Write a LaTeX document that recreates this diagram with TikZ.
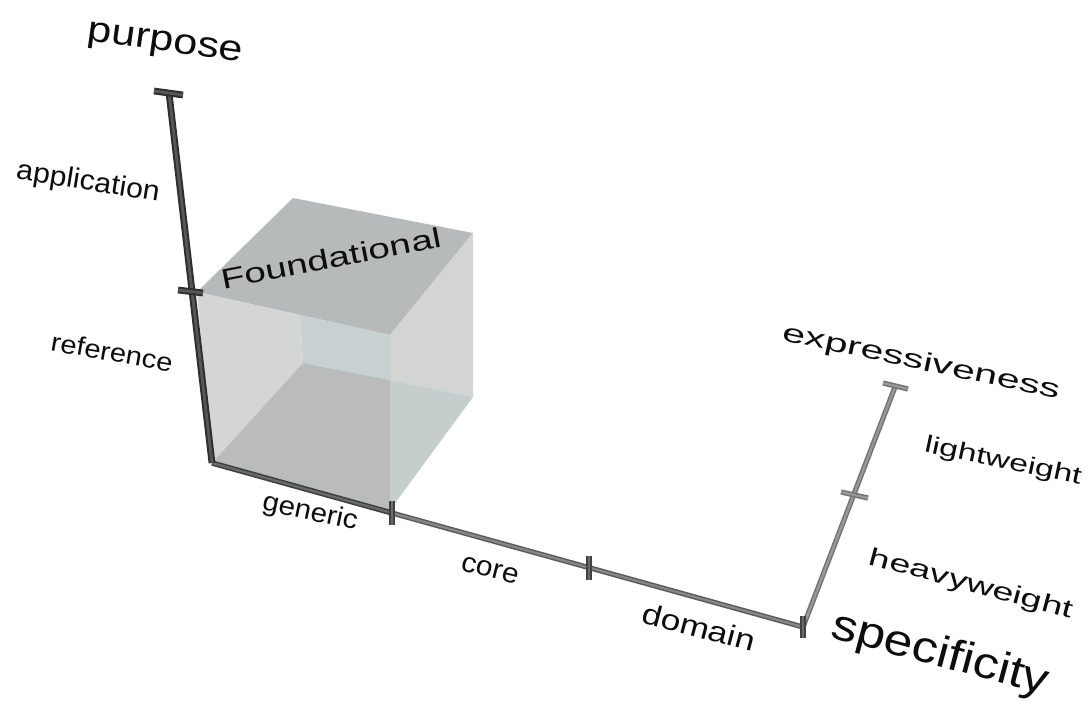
\documentclass[tikz,border=0pt]{standalone}
\usepackage{fontspec}
\usepackage{graphicx}
\setmainfont{Liberation Sans}
\definecolor{topface}{RGB}{182,186,186}
\definecolor{leftface}{RGB}{212,213,213}
\definecolor{backface}{RGB}{200,209,209}
\definecolor{floorface}{RGB}{186,187,187}
\definecolor{rightup}{RGB}{211,213,213}
\definecolor{rightlow}{RGB}{198,205,205}
\begin{document}
\begin{tikzpicture}[x=1pt,y=-1pt,
  lbl/.style={inner sep=0pt, text=black!95, font=\fontsize{#1}{#1}\selectfont},
  face/.style={fill=#1, draw=none},
  rodP/.style={draw=black!82, double=black!66, line width=2pt, double distance=2.8pt},
  rodSd/.style={draw=black!75, double=black!58, line width=1.6pt, double distance=2.2pt},
  rodS/.style={draw=black!64, double=black!47, line width=1.5pt, double distance=2.2pt},
  rodE/.style={draw=black!55, double=black!40, line width=1.5pt, double distance=2.2pt},
]
\useasboundingbox (0,0) rectangle (1089,707);
\fill[white] (0,0) rectangle (1089,707);

% cube corners
\coordinate (O) at (212,463);
\coordinate (A) at (390,510);
\coordinate (C) at (390,335);
\coordinate (B) at (197,292);
\coordinate (P) at (293,198);
\coordinate (Q) at (473,233);
\coordinate (R) at (473,397);
\coordinate (D) at (303,363);
\coordinate (X) at (390,380);
\coordinate (Y) at (300,315);

% translucent cube, drawn as its visible regions
\fill[face=topface] (B) -- (P) -- (Q) -- (C) -- cycle;
\fill[face=leftface] (B) -- (Y) -- (D) -- (O) -- cycle;
\fill[face=backface] (Y) -- (C) -- (X) -- (D) -- cycle;
\fill[face=floorface] (O) -- (D) -- (X) -- (A) -- cycle;
\fill[face=rightup] (C) -- (Q) -- (R) -- (X) -- cycle;
\fill[face=rightlow] (X) -- (R) -- (A) -- cycle;

\node[lbl=28, rotate=11] (found) at (331,258) {\scalebox{1.38}[1]{Foundational}};

% axis points
\coordinate (pTop) at (169,93);
\coordinate (capPl) at (154,91);
\coordinate (capPr) at (183,95);
\coordinate (refL) at (178,290);
\coordinate (refR) at (203,293);
\coordinate (genT) at (392,501);
\coordinate (genB) at (392,525);
\coordinate (gen) at (392,513);
\coordinate (coreT) at (589,556);
\coordinate (coreB) at (589,580);
\coordinate (endS) at (803,627);
\coordinate (endT) at (803,616);
\coordinate (endB) at (803,638);
\coordinate (eTop) at (895,387);
\coordinate (eCapL) at (883,383);
\coordinate (eCapR) at (908,389);
\coordinate (eTickL) at (841,492);
\coordinate (eTickR) at (868,498);

% axes
\draw[rodS] (gen) -- (endS);
\draw[rodE] (endS) -- (eTop);
\draw[rodE] (eCapL) -- (eCapR);
\draw[rodE] (eTickL) -- (eTickR);
\draw[rodSd] (O) -- (gen);
\draw[rodP] (pTop) -- (O);
\draw[rodP] (capPl) -- (capPr);
\draw[rodP] (refL) -- (refR);
\draw[rodSd] (genT) -- (genB);
\draw[rodSd] (coreT) -- (coreB);
\draw[rodSd] (endT) -- (endB);

% labels
\node[lbl=36, rotate=-8] (purpose) at (165,45) {\scalebox{1.2}[1]{purpose}};
\node[lbl=28, rotate=-9] (application) at (88,183) {\scalebox{1.08}[1]{application}};
\node[lbl=26, rotate=-10] (reference) at (112,352) {\scalebox{1.12}[1]{reference}};
\node[lbl=27, rotate=-12] (generic) at (310,513) {\scalebox{1.09}[1]{generic}};
\node[lbl=28, rotate=-14] (core) at (490,570) {\scalebox{1.07}[1]{core}};
\node[lbl=29, rotate=-15] (domain) at (699,627) {\scalebox{1.22}[1]{domain}};
\node[lbl=44, rotate=-15] (specificity) at (940,655) {\scalebox{1.17}[1]{specificity}};
\node[lbl=26, rotate=-12] (expressiveness) at (921,363) {\scalebox{1.58}[1]{expressiveness}};
\node[lbl=24, rotate=-12] (lightweight) at (1003,462) {\scalebox{1.41}[1]{lightweight}};
\node[lbl=25, rotate=-15] (heavyweight) at (971,585) {\scalebox{1.51}[1]{heavyweight}};
\end{tikzpicture}
\end{document}
